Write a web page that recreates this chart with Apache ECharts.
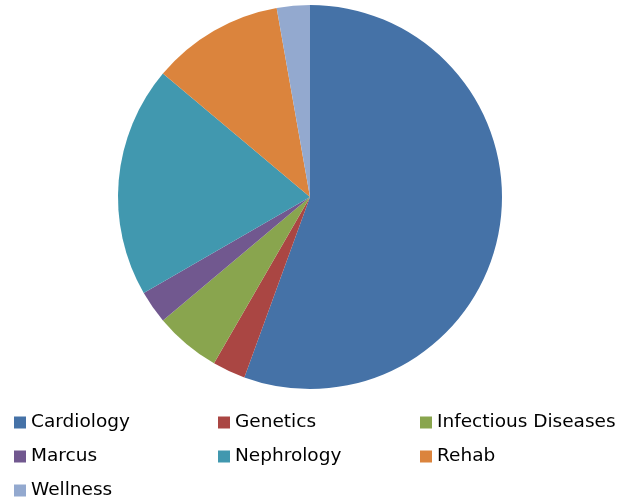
<!DOCTYPE html>
<html><head><meta charset="utf-8">
<script src="https://cdn.jsdelivr.net/npm/echarts@6/dist/echarts.min.js"></script>
<style>html,body{margin:0;padding:0;background:#fff}#c{width:624px;height:502px}</style>
</head><body><div id="c"></div>
<script>
var categories = ["Cardiology","Genetics","Infectious Diseases","Marcus","Nephrology","Rehab","Wellness"];
var values = [20,1,2,1,7,4,1];
var colors = ["#4572A7","#AA4643","#89A54E","#71588F","#4198AF","#DB843D","#93A9CF"];
var legendCols = [["Cardiology","Marcus","Wellness"],["Genetics","Nephrology"],["Infectious Diseases","Rehab"]];
var legendLefts = [14,218,420];

var chart = echarts.init(document.getElementById('c'), null, {renderer:'canvas'});
var legends = legendCols.map(function(col,i){
  return {
    orient:'vertical', left:legendLefts[i], top:412, height:100, padding:0, data:col,
    itemWidth:12, itemHeight:12, itemGap:13, icon:'rect',
    textStyle:{fontFamily:'DejaVu Sans', fontSize:18.5, color:'#000', lineHeight:21},
    selectedMode:false
  };
});
chart.setOption({
  animation:false,
  color:colors,
  legend:legends,
  series:[{
    type:'pie', center:[310,197], radius:192, startAngle:90, clockwise:true,
    label:{show:false}, labelLine:{show:false},
    itemStyle:{borderWidth:0},
    emphasis:{disabled:true},
    data:categories.map(function(c,i){return {name:c,value:values[i]};})
  }]
});
</script></body></html>
